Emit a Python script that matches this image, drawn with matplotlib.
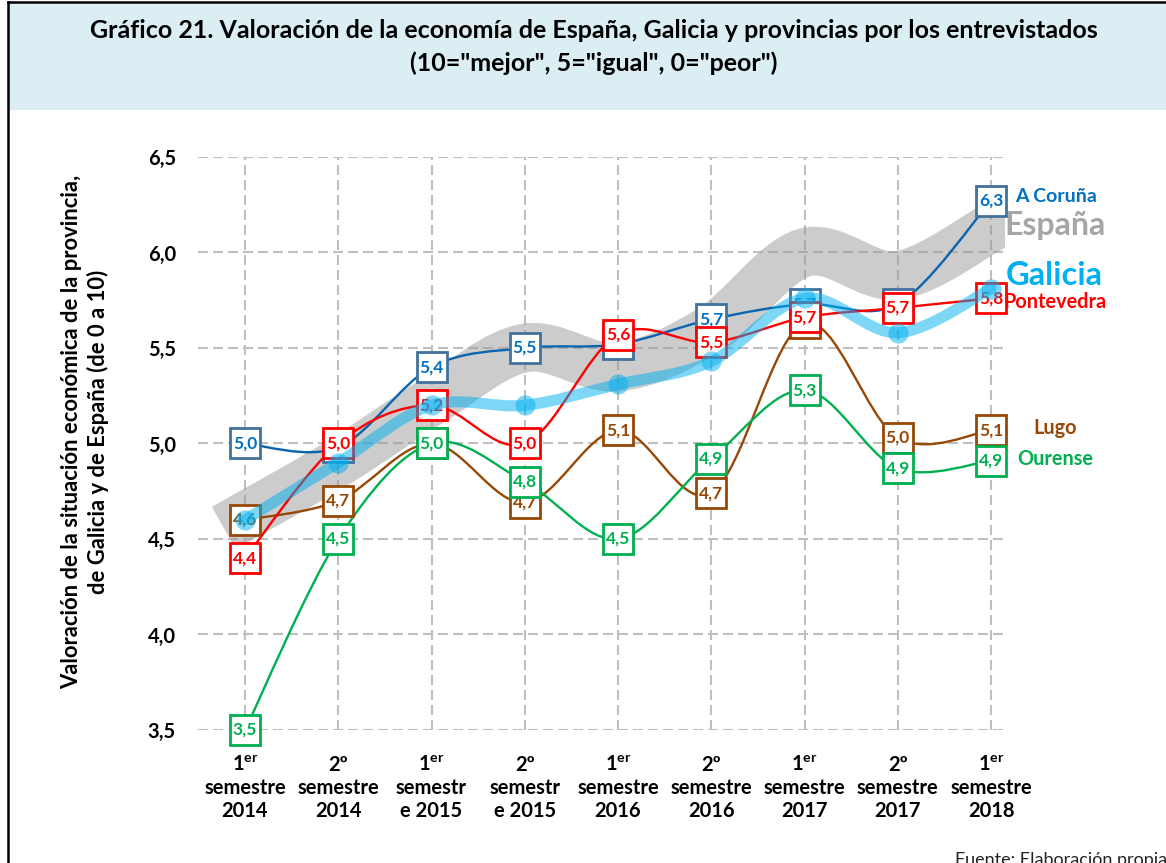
import numpy as np
import matplotlib
matplotlib.use("Agg")
import matplotlib.pyplot as plt
from matplotlib.path import Path
from matplotlib.patches import PathPatch, Rectangle
from matplotlib.lines import Line2D

plt.rcParams['font.family'] = ['Lato', 'DejaVu Sans']
plt.rcParams['mathtext.fontset'] = 'custom'
plt.rcParams['mathtext.bf'] = 'Lato:bold'
plt.rcParams['mathtext.rm'] = 'Lato:bold'

# datos
periodos = [r"1$^{\mathbf{er}}$" + "\nsemestre\n2014", "2º\nsemestre\n2014",
            r"1$^{\mathbf{er}}$" + "\nsemestr\ne 2015", "2º\nsemestr\ne 2015",
            r"1$^{\mathbf{er}}$" + "\nsemestre\n2016", "2º\nsemestre\n2016",
            r"1$^{\mathbf{er}}$" + "\nsemestre\n2017", "2º\nsemestre\n2017",
            r"1$^{\mathbf{er}}$" + "\nsemestre\n2018"]
espana = [4.62, 4.90, 5.22, 5.50, 5.40, 5.60, 6.00, 5.88, 6.13]
galicia = [4.60, 4.90, 5.20, 5.20, 5.31, 5.43, 5.76, 5.58, 5.81]
coruna = [5.00, 4.98, 5.40, 5.50, 5.52, 5.65, 5.73, 5.73, 6.27]
pontevedra = [4.40, 5.00, 5.20, 5.00, 5.57, 5.53, 5.66, 5.71, 5.76]
lugo = [4.60, 4.70, 5.00, 4.69, 5.07, 4.74, 5.63, 5.03, 5.07]
ourense = [3.50, 4.50, 5.00, 4.80, 4.50, 4.92, 5.28, 4.87, 4.91]

x = np.arange(len(periodos))


def suave(xs, ys):
    # curva suavizada tipo Excel (bezier cubica)
    P = np.column_stack([xs, ys]).astype(float)
    n = len(P)
    verts = [P[0]]
    codes = [Path.MOVETO]
    for i in range(n - 1):
        p0 = P[i - 1] if i > 0 else P[i]
        p1, p2 = P[i], P[i + 1]
        p3 = P[i + 2] if i + 2 < n else P[i + 1]
        verts += [p1 + (p2 - p0) / 6, p2 - (p3 - p1) / 6, p2]
        codes += [Path.CURVE4] * 3
    return Path(verts, codes)


fig = plt.figure(figsize=(11.66, 8.63), dpi=100)
W, H = 1166, 863

# cabecera
fig.patches.append(Rectangle((8 / W, 1 - 110 / H), 1, 107 / H, transform=fig.transFigure,
                             facecolor='#DAEEF3', edgecolor='none', zorder=0))
fig.lines.append(Line2D([8 / W, 8 / W], [0, 1 - 2 / H], transform=fig.transFigure,
                        color='black', lw=1.8))
fig.lines.append(Line2D([8 / W, 1], [1 - 2 / H, 1 - 2 / H], transform=fig.transFigure,
                        color='black', lw=1.8))
fig.text(594 / W, 1 - 31 / H,
         "Gráfico 21. Valoración de la economía de España, Galicia y provincias por los entrevistados",
         ha='center', va='center', fontsize=18, fontweight='bold')
fig.text(594 / W, 1 - 63 / H, '(10="mejor", 5="igual", 0="peor")',
         ha='center', va='center', fontsize=18, fontweight='bold')

ax = fig.add_axes([198 / W, 1 - 730 / H, (1005 - 198) / W, (730 - 157) / H])
ax.set_xlim(-0.504, 8.15)
ax.set_ylim(3.5, 6.5)
for s in ax.spines.values():
    s.set_visible(False)

grid_kw = dict(color='#BFBFBF', lw=1.5, ls=(0, (4.8, 2.4)), zorder=1)
for yv in np.arange(3.5, 6.51, 0.5):
    ax.axhline(yv, **grid_kw)
for xv in x:
    ax.axvline(xv, **grid_kw)

ax.set_yticks(np.arange(3.5, 6.51, 0.5))
ax.set_yticklabels([f"{v:.1f}".replace('.', ',') for v in np.arange(3.5, 6.51, 0.5)],
                   fontsize=14.5, fontweight='bold')
ax.set_xticks(x)
ax.set_xticklabels(periodos, fontsize=14.5, fontweight='bold', linespacing=1.2)
ax.tick_params(axis='y', length=0, pad=16)
ax.tick_params(axis='x', length=0, pad=18)

fig.text(85 / W, 1 - 432 / H,
         "Valoración de la situación económica de la provincia,\nde Galicia y de España (de 0 a 10)",
         rotation=90, ha='center', va='center', fontsize=15.8, fontweight='bold',
         linespacing=1.25)

# España: banda gris
ax.add_patch(PathPatch(suave(x, espana), fill=False, edgecolor='#9A9A9A', alpha=0.5,
                       lw=35, capstyle='projecting', joinstyle='round', zorder=2))

provincias = [
    ("Lugo", lugo, '#974806', '#974806', '#974806'),
    ("Ourense", ourense, '#00B050', '#00B050', '#00B050'),
    ("A Coruña", coruna, '#0B64AE', '#41719C', '#0070C0'),
    ("Pontevedra", pontevedra, '#FF0000', '#FF0000', '#FF0000'),
]
for k, (nombre, vals, cl, cb, ct) in enumerate(provincias):
    ax.add_patch(PathPatch(suave(x, vals), fill=False, edgecolor=cl, lw=1.7,
                           zorder=3 + k * 0.01, clip_on=False))
for k, (nombre, vals, cl, cb, ct) in enumerate(provincias):
    ax.plot(x, vals, 's', ms=21.5, mfc='white', mec=cb, mew=2.0,
            zorder=4 + k * 0.1, clip_on=False)
    for xi, v in zip(x, vals):
        ax.text(xi, v, f"{v:.1f}".replace('.', ','), ha='center', va='center',
                fontsize=12.5, fontweight='bold', color=ct, zorder=4.05 + k * 0.1,
                clip_on=False)

# Galicia
ax.add_patch(PathPatch(suave(x, galicia), fill=False, edgecolor='#00B0F0', alpha=0.5,
                       lw=8, capstyle='round', zorder=4.5))
ax.plot(x, galicia, 'o', ms=14.5, color='#00B0F0', alpha=0.5, mew=0, zorder=4.5)

# etiquetas de series
ax.annotate("A Coruña", (x[-1], coruna[-1]), xytext=(24, 4), textcoords='offset pixels',
            ha='left', va='center', fontsize=14, fontweight='bold', color='#0070C0')
ax.annotate("España", (x[-1], espana[-1]), xytext=(13, 2), textcoords='offset pixels',
            ha='left', va='center', fontsize=23, fontweight='bold', color='#A6A6A6')
ax.annotate("Galicia", (x[-1], galicia[-1]), xytext=(15, 13), textcoords='offset pixels',
            ha='left', va='center', fontsize=23.5, fontweight='bold', color='#00B0F0')
ax.annotate("Pontevedra", (x[-1], pontevedra[-1]), xytext=(12, -4), textcoords='offset pixels',
            ha='left', va='center', fontsize=14.3, fontweight='bold', color='#FF0000')
ax.annotate("Lugo", (x[-1], lugo[-1]), xytext=(42, 2), textcoords='offset pixels',
            ha='left', va='center', fontsize=14.3, fontweight='bold', color='#974806')
ax.annotate("Ourense", (x[-1], ourense[-1]), xytext=(26, 2), textcoords='offset pixels',
            ha='left', va='center', fontsize=14.3, fontweight='bold', color='#00B050')

fig.text(955 / W, 1 - 852 / H, "Fuente: Elaboración propia", ha='left', va='top',
         fontsize=13, color='#222222')

fig.savefig("out.png", dpi=100)
